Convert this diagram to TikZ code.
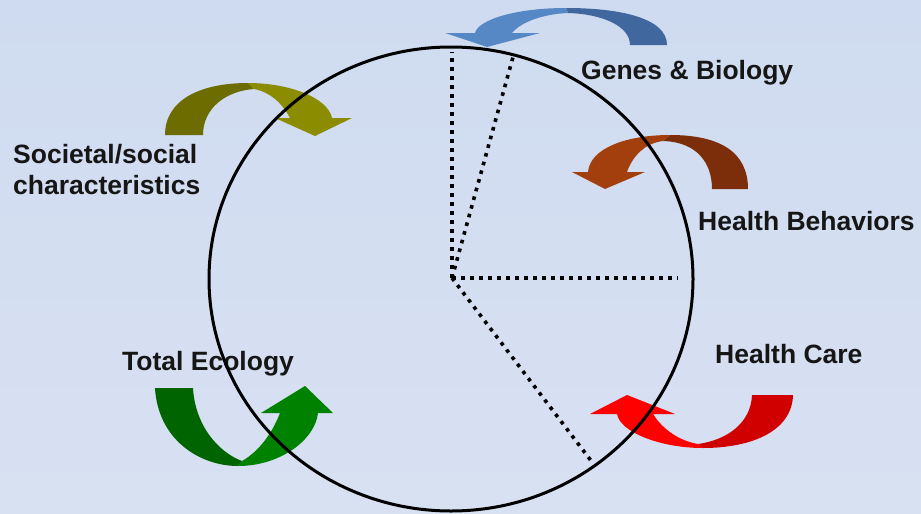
\documentclass[tikz,border=0pt]{standalone}
\usepackage{fontspec}
\setmainfont{Liberation Sans}
\definecolor{bgtop}{RGB}{207,219,240}
\definecolor{bgmid}{RGB}{199,212,236}
\definecolor{bgbot}{RGB}{216,225,242}
\definecolor{labelink}{RGB}{22,22,22}
\definecolor{oliveback}{RGB}{108,108,0}
\definecolor{olivefront}{RGB}{140,140,0}
\definecolor{brownback}{RGB}{124,46,10}
\definecolor{brownfront}{RGB}{163,63,12}
\definecolor{blueback}{RGB}{64,104,158}
\definecolor{bluefront}{RGB}{86,136,198}
\definecolor{greenback}{RGB}{0,100,0}
\definecolor{greenfront}{RGB}{0,130,0}
\definecolor{redback}{RGB}{208,0,0}
\definecolor{redfront}{RGB}{255,0,0}
\tikzset{
  lbl/.style={anchor=base west, inner sep=0pt, text=labelink,
    font=\fontsize{26.5}{30}\selectfont\bfseries},
  ring/.style={draw=black, line width=3pt},
  dotline/.style={draw=black, line width=3.6pt, dash pattern=on 3.6pt off 5.4pt}
}
\begin{document}
\begin{tikzpicture}[x=1pt,y=-1pt]
% background
\shade[top color=bgtop, middle color=bgmid, bottom color=bgbot] (0,0) rectangle (921,514);
\useasboundingbox (0,0) rectangle (921,514);

% curved arrow: Genes & Biology (blue, head on the left)
\fill[blueback] (667,45) .. controls (667,18) and (620,8) .. (566,8)
  -- (568,13) .. controls (602,14) and (630,26) .. (630,45) -- cycle;
\fill[bluefront] (566,8) .. controls (515,8) and (478,20) .. (475,33)
  -- (445,33) -- (487,47) -- (540,33) -- (512,33)
  .. controls (522,21) and (545,14) .. (568,13) -- cycle;

% curved arrow: Societal/social characteristics (olive, head on the right)
\fill[oliveback] (165,135) .. controls (165,100) and (200,83) .. (248,83)
  -- (254,89) .. controls (226,91) and (203,108) .. (203,135) -- cycle;
\fill[olivefront] (248,83) .. controls (290,83) and (328,98) .. (332,118)
  -- (352,118) -- (315,136) -- (275,118) -- (290,118)
  .. controls (282,103) and (270,92) .. (254,89) -- cycle;

% curved arrow: Health Behaviors (brown, head on the left)
\fill[brownback] (748,189) .. controls (748,152) and (720,135) .. (670,135)
  -- (663,141) .. controls (697,142) and (712,163) .. (712,189) -- cycle;
\fill[brownfront] (670,135) .. controls (627,135) and (590,148) .. (588,172)
  -- (572,172) -- (605,189) -- (645,172) -- (627,172)
  .. controls (633,155) and (646,143) .. (663,141) -- cycle;

% curved arrow: Total Ecology (green, head pointing up on the right)
\fill[greenback] (155,388) .. controls (158,440) and (200,466) .. (238,466)
  -- (242,461) .. controls (218,452) and (195,425) .. (193,388) -- cycle;
\fill[greenfront] (238,466) .. controls (280,466) and (315,440) .. (318,413)
  -- (333,413) -- (305,386) -- (261,413) -- (280,413)
  .. controls (272,434) and (258,452) .. (242,461) -- cycle;

% curved arrow: Health Care (red, head pointing up on the left)
\fill[redback] (793,395) .. controls (792,432) and (750,448) .. (703,448)
  -- (698,444) .. controls (727,440) and (751,423) .. (752,395) -- cycle;
\fill[redfront] (703,448) .. controls (660,448) and (620,432) .. (617,414)
  -- (590,414) -- (627,395) -- (675,414) -- (653,414)
  .. controls (663,430) and (680,441) .. (698,444) -- cycle;

% labels
\node[lbl] (genes) at (581,79) {Genes \& Biology};
\node[lbl] (behav) at (698,230) {Health Behaviors};
\node[lbl] (soc) at (13,163) {Societal/social};
\node[lbl] (soc2) at (13,194) {characteristics};
\node[lbl] (eco) at (122,370) {Total Ecology};
\node[lbl] (care) at (715,363) {Health Care};

% the pie
\coordinate (c) at (452,278);
\draw[ring] (451,279) ellipse [x radius=242, y radius=232];
\coordinate (d1) at (452,52);
\coordinate (d2) at (513,57);
\coordinate (d3) at (678,278);
\coordinate (d4) at (592,462);
\draw[dotline] (c) -- (d1);
\draw[dotline] (c) -- (d2);
\draw[dotline] (c) -- (d3);
\draw[dotline] (c) -- (d4);
\end{tikzpicture}
\end{document}
